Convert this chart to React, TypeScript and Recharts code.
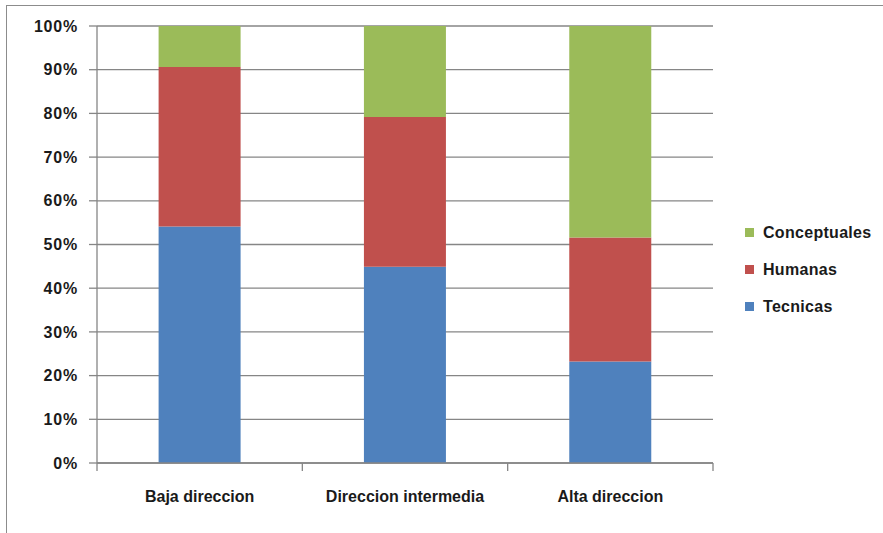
import { BarChart, Bar, XAxis, YAxis, CartesianGrid } from 'recharts';

const categories = ['Baja direccion', 'Direccion intermedia', 'Alta direccion'];
const tecnicas = [0.541, 0.449, 0.232];
const humanas = [0.365, 0.343, 0.284];
const conceptuales = [0.094, 0.208, 0.484];
const yTicks = [0, 0.1, 0.2, 0.3, 0.4, 0.5, 0.6, 0.7, 0.8, 0.9, 1];

const series = [
  { key: 'Tecnicas', values: tecnicas, color: '#4F81BD' },
  { key: 'Humanas', values: humanas, color: '#C0504D' },
  { key: 'Conceptuales', values: conceptuales, color: '#9BBB59' },
];

const data = categories.map((name, i) => {
  const row: Record<string, string | number> = { name };
  series.forEach((s) => {
    row[s.key] = s.values[i];
  });
  return row;
});

const FONT = '"Liberation Sans", Arial, sans-serif';
const AXIS_GRAY = '#868686';
const TEXT = '#1a1a1a';

// category label plus tick marks on the band edges (Excel style)
const CategoryTick = (props: any) => {
  const { x, y, payload, index, visibleTicksCount } = props;
  const half = payload.offset ?? 0;
  const last = index === visibleTicksCount - 1;
  return (
    <g>
      <line x1={x - half} x2={x - half} y1={y} y2={y + 8} stroke={AXIS_GRAY} strokeWidth={1.3} />
      {last && (
        <line x1={x + half} x2={x + half} y1={y} y2={y + 8} stroke={AXIS_GRAY} strokeWidth={1.3} />
      )}
      <text
        x={x}
        y={y + 39}
        textAnchor="middle"
        fontFamily={FONT}
        fontWeight="bold"
        fontSize={16}
        fill={TEXT}
      >
        {payload.value}
      </text>
    </g>
  );
};

// legend, top entry first like the stack
const LegendBox = () => (
  <div
    style={{
      position: 'absolute',
      left: 745,
      top: 214,
      fontFamily: FONT,
      fontWeight: 'bold',
      fontSize: 16,
      letterSpacing: 0.3,
      color: TEXT,
    }}
  >
    {[...series].reverse().map((s) => (
      <div key={s.key} style={{ display: 'flex', alignItems: 'center', height: 37 }}>
        <span
          style={{ width: 9, height: 9, background: s.color, display: 'inline-block', marginRight: 9 }}
        />
        <span>{s.key}</span>
      </div>
    ))}
  </div>
);

export default function App() {
  return (
    <div style={{ position: 'absolute', left: 0, top: 0, width: 883, height: 533, background: '#fff' }}>
      <div
        style={{
          position: 'absolute',
          left: 6,
          top: 5,
          right: -2,
          bottom: -2,
          borderTop: '1px solid #8c8c8c',
          borderLeft: '1px solid #8c8c8c',
        }}
      />
      <BarChart
        width={883}
        height={533}
        data={data}
        margin={{ top: 26, right: 170, bottom: 0, left: 0 }}
        barCategoryGap="30%"
        style={{ position: 'absolute', left: 0, top: 0 }}
      >
        <CartesianGrid vertical={false} stroke={AXIS_GRAY} strokeWidth={1.3} />
        <XAxis
          dataKey="name"
          axisLine={{ stroke: AXIS_GRAY, strokeWidth: 1.3 }}
          tickLine={false}
          tickSize={0}
          tickMargin={0}
          height={70}
          interval={0}
          tick={<CategoryTick />}
        />
        <YAxis
          width={97}
          domain={[0, 1]}
          ticks={yTicks}
          interval={0}
          tickFormatter={(v: number) => `${Math.round(v * 100)}%`}
          axisLine={{ stroke: AXIS_GRAY, strokeWidth: 1.3 }}
          tickLine={{ stroke: AXIS_GRAY, strokeWidth: 1.3 }}
          tickSize={8}
          tickMargin={11}
          tick={{ fontFamily: FONT, fontWeight: 'bold', fontSize: 16, letterSpacing: 0.8, fill: TEXT }}
        />
        {series.map((s) => (
          <Bar key={s.key} dataKey={s.key} stackId="a" fill={s.color} isAnimationActive={false} />
        ))}
      </BarChart>
      <LegendBox />
    </div>
  );
}
